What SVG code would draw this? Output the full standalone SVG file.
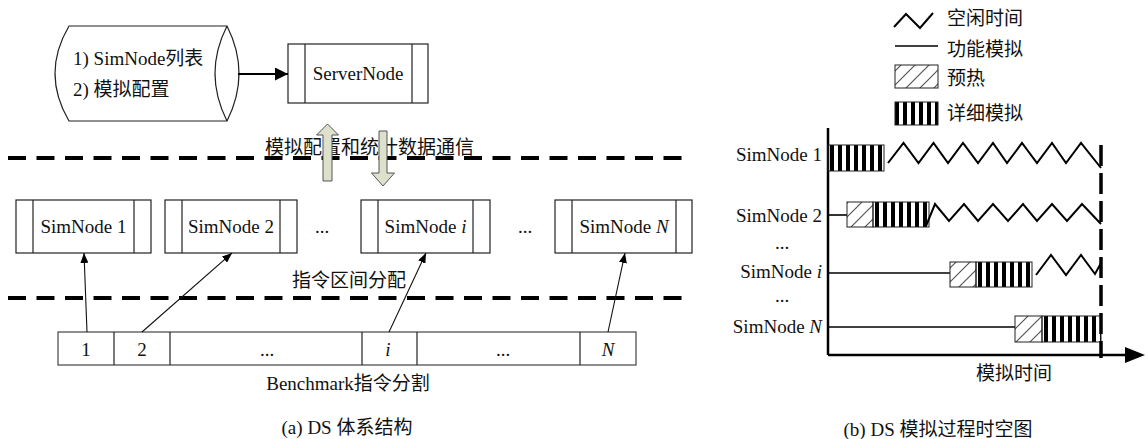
<svg xmlns="http://www.w3.org/2000/svg" width="1148" height="439" viewBox="0 0 1148 439">
<style>
text{font-family:"Liberation Serif","Noto Sans CJK SC",serif;font-size:19px;fill:#111}
.c{text-anchor:middle}
.e{text-anchor:end}
.it{font-style:italic}
.box{fill:#fff;stroke:#222;stroke-width:1.2}
.in{stroke:#222;stroke-width:1.2}
.dash{stroke:#000;stroke-width:4;stroke-dasharray:18 10.5;fill:none}
.thin{stroke:#111;stroke-width:1.1;fill:none}
.fat{fill:#dde0cb;stroke:#555;stroke-width:1}
.axis{stroke:#000;stroke-width:2.5;fill:none}
.row{stroke:#000;stroke-width:1.6;fill:none}
.zig{stroke:#000;stroke-width:2;fill:none;stroke-linejoin:miter}
.stripe{stroke:#000;stroke-dasharray:4 4;fill:none}
.hb{fill:url(#hatch);stroke:#222;stroke-width:1}
.ob{fill:none;stroke:#222;stroke-width:1}
</style>
<defs>
<pattern id="hatch" patternUnits="userSpaceOnUse" width="14" height="14">
<path d="M-1,15 L15,-1 M-4,4 L4,-4 M10,18 L18,10" stroke="#555" stroke-width="1.2"/>
</pattern>
<marker id="ah" markerUnits="userSpaceOnUse" markerWidth="10" markerHeight="8" refX="10" refY="4" orient="auto">
<path d="M0,0 L10,4 L0,8 z" fill="#000"/>
</marker>
<marker id="ahb" markerUnits="userSpaceOnUse" markerWidth="13" markerHeight="13" refX="13" refY="6.5" orient="auto">
<path d="M0,0 L13,6.5 L0,13 z" fill="#000"/>
</marker>
</defs>

<!-- Left part (a) -->
<g id="config-store">
<path d="M69,26 L227,26 Q251,73.5 227,121 L69,121 Q41,73.5 69,26 z" fill="#fff" stroke="#222" stroke-width="1.2"/>
<path d="M227,26 Q203,73.5 227,121" fill="none" stroke="#222" stroke-width="1.2"/>
<text x="73" y="65">1) SimNode列表</text>
<text x="73" y="96">2) 模拟配置</text>
</g>

<g id="server-node">
<rect class="box" x="288" y="44" width="140" height="59"/>
<line class="in" x1="305" y1="44" x2="305" y2="103"/>
<line class="in" x1="412" y1="44" x2="412" y2="103"/>
<text class="c" x="358" y="80">ServerNode</text>
</g>

<g id="dividers">
<line class="dash" x1="8" y1="158" x2="682" y2="158"/>
<line class="dash" x1="8" y1="298" x2="682" y2="298"/>
</g>

<g id="comm-label">
<text x="265" y="154" fill="#222">模拟配置和统计数据通信</text>
</g>
<g id="alloc-label">
<text x="292" y="287">指令区间分配</text>
</g>

<g id="simnode-1">
<rect class="box" x="16" y="200" width="135" height="53"/>
<line class="in" x1="33" y1="200" x2="33" y2="253"/>
<line class="in" x1="134" y1="200" x2="134" y2="253"/>
<text class="c" x="83.5" y="233">SimNode 1</text>
</g>
<g id="simnode-2">
<rect class="box" x="165" y="200" width="132" height="53"/>
<line class="in" x1="182" y1="200" x2="182" y2="253"/>
<line class="in" x1="280" y1="200" x2="280" y2="253"/>
<text class="c" x="231" y="233">SimNode 2</text>
</g>
<text class="c" x="322" y="233">...</text>
<g id="simnode-i">
<rect class="box" x="361" y="200" width="129" height="53"/>
<line class="in" x1="378" y1="200" x2="378" y2="253"/>
<line class="in" x1="473" y1="200" x2="473" y2="253"/>
<text class="c" x="425.5" y="233">SimNode <tspan class="it">i</tspan></text>
</g>
<text class="c" x="525" y="233">...</text>
<g id="simnode-n">
<rect class="box" x="555" y="200" width="137" height="53"/>
<line class="in" x1="572" y1="200" x2="572" y2="253"/>
<line class="in" x1="676" y1="200" x2="676" y2="253"/>
<text class="c" x="624" y="233">SimNode <tspan class="it">N</tspan></text>
</g>

<g id="benchmark-bar">
<rect x="58" y="332" width="578" height="33" fill="#fff" stroke="#444" stroke-width="1.2"/>
<line class="in" x1="114" y1="332" x2="114" y2="365"/>
<line class="in" x1="170" y1="332" x2="170" y2="365"/>
<line class="in" x1="362" y1="332" x2="362" y2="365"/>
<line class="in" x1="417" y1="332" x2="417" y2="365"/>
<line class="in" x1="580" y1="332" x2="580" y2="365"/>
<text class="c" x="86" y="356">1</text>
<text class="c" x="142" y="356">2</text>
<text class="c" x="267" y="356">...</text>
<text class="c it" x="388" y="356">i</text>
<text class="c" x="503" y="356">...</text>
<text class="c it" x="608" y="356">N</text>
<text class="c" x="348" y="390">Benchmark指令分割</text>
</g>

<g id="connectors">
<line x1="238" y1="74" x2="288" y2="74" stroke="#000" stroke-width="2" marker-end="url(#ahb)"/>
<line class="thin" x1="87" y1="332" x2="84" y2="253" marker-end="url(#ah)"/>
<line class="thin" x1="142" y1="332" x2="232" y2="253" marker-end="url(#ah)"/>
<line class="thin" x1="389" y1="332" x2="426" y2="253" marker-end="url(#ah)"/>
<line class="thin" x1="608" y1="332" x2="625" y2="253" marker-end="url(#ah)"/>
<polygon class="fat" points="327.5,124 338.5,135 332,135 332,181 323,181 323,135 316.5,135"/>
<polygon class="fat" points="379,131 387,131 387,173 394.5,173 383,186 371.5,173 379,173"/>
</g>

<text class="c" x="347" y="434">(a) DS 体系结构</text>

<!-- Right part (b) -->
<g id="legend">
<polyline class="zig" points="894,27 906,14 920,28 933,13"/>
<text x="947" y="25">空闲时间</text>
<line class="row" x1="895" y1="46" x2="938" y2="46"/>
<text x="947" y="56">功能模拟</text>
<rect class="hb" x="895" y="65" width="43" height="23"/>
<text x="947" y="85">预热</text>
<line class="stripe" x1="895" y1="113.5" x2="938" y2="113.5" stroke-width="23"/>
<rect class="ob" x="895" y="102" width="43" height="23"/>
<text x="947" y="120">详细模拟</text>
</g>

<g id="time-axes">
<line class="axis" x1="828" y1="128" x2="828" y2="355"/>
<line class="axis" x1="828" y1="355" x2="1125" y2="355"/>
<path d="M1125,347 L1145,355 L1125,363 z" fill="#000"/>
<text class="c" x="1014" y="380">模拟时间</text>
</g>

<g id="row-simnode-1">
<text class="e" x="822" y="161">SimNode 1</text>
<line class="stripe" x1="830" y1="158" x2="884" y2="158" stroke-width="26"/>
<rect class="ob" x="828" y="145" width="56" height="26"/>
<polyline class="zig" points="888,163 903.5,143 918.5,163 933.5,143 948,163 963,143 978,163 993,143 1007,163 1022,143 1037,163 1052,143 1066,163 1081,143 1101,168"/>
</g>

<g id="row-simnode-2">
<text class="e" x="822" y="222">SimNode 2</text>
<line class="row" x1="828" y1="215" x2="847" y2="215"/>
<rect class="hb" x="847" y="202" width="26" height="25"/>
<line class="stripe" x1="875" y1="214.5" x2="929" y2="214.5" stroke-width="25"/>
<rect class="ob" x="873" y="202" width="56" height="25"/>
<polyline class="zig" points="926,226 935,204 949,221 964,204 978,221 993,204 1008,221 1023,204 1037,221 1052,204 1067,221 1082,204 1101,224"/>
</g>

<text class="c" x="782" y="249">...</text>

<g id="row-simnode-i">
<text class="e" x="822" y="278">SimNode <tspan class="it">i</tspan></text>
<line class="row" x1="828" y1="273" x2="950" y2="273"/>
<rect class="hb" x="950" y="262" width="26" height="25"/>
<line class="stripe" x1="978" y1="274.5" x2="1032" y2="274.5" stroke-width="25"/>
<rect class="ob" x="976" y="262" width="56" height="25"/>
<polyline class="zig" points="1036,275 1051,255 1066,275 1081,255 1095,274 1101,263"/>
</g>

<text class="c" x="782" y="302">...</text>

<g id="row-simnode-n">
<text class="e" x="822" y="333">SimNode <tspan class="it">N</tspan></text>
<line class="row" x1="828" y1="327" x2="1015" y2="327"/>
<rect class="hb" x="1015" y="316" width="27" height="26"/>
<line class="stripe" x1="1044" y1="329" x2="1101" y2="329" stroke-width="26"/>
<rect class="ob" x="1042" y="316" width="59" height="26"/>
</g>

<g id="end-line">
<line x1="1101" y1="145" x2="1101" y2="358" stroke="#000" stroke-width="3.5" stroke-dasharray="21 7"/>
</g>

<text class="c" x="938" y="436">(b) DS 模拟过程时空图</text>
</svg>
